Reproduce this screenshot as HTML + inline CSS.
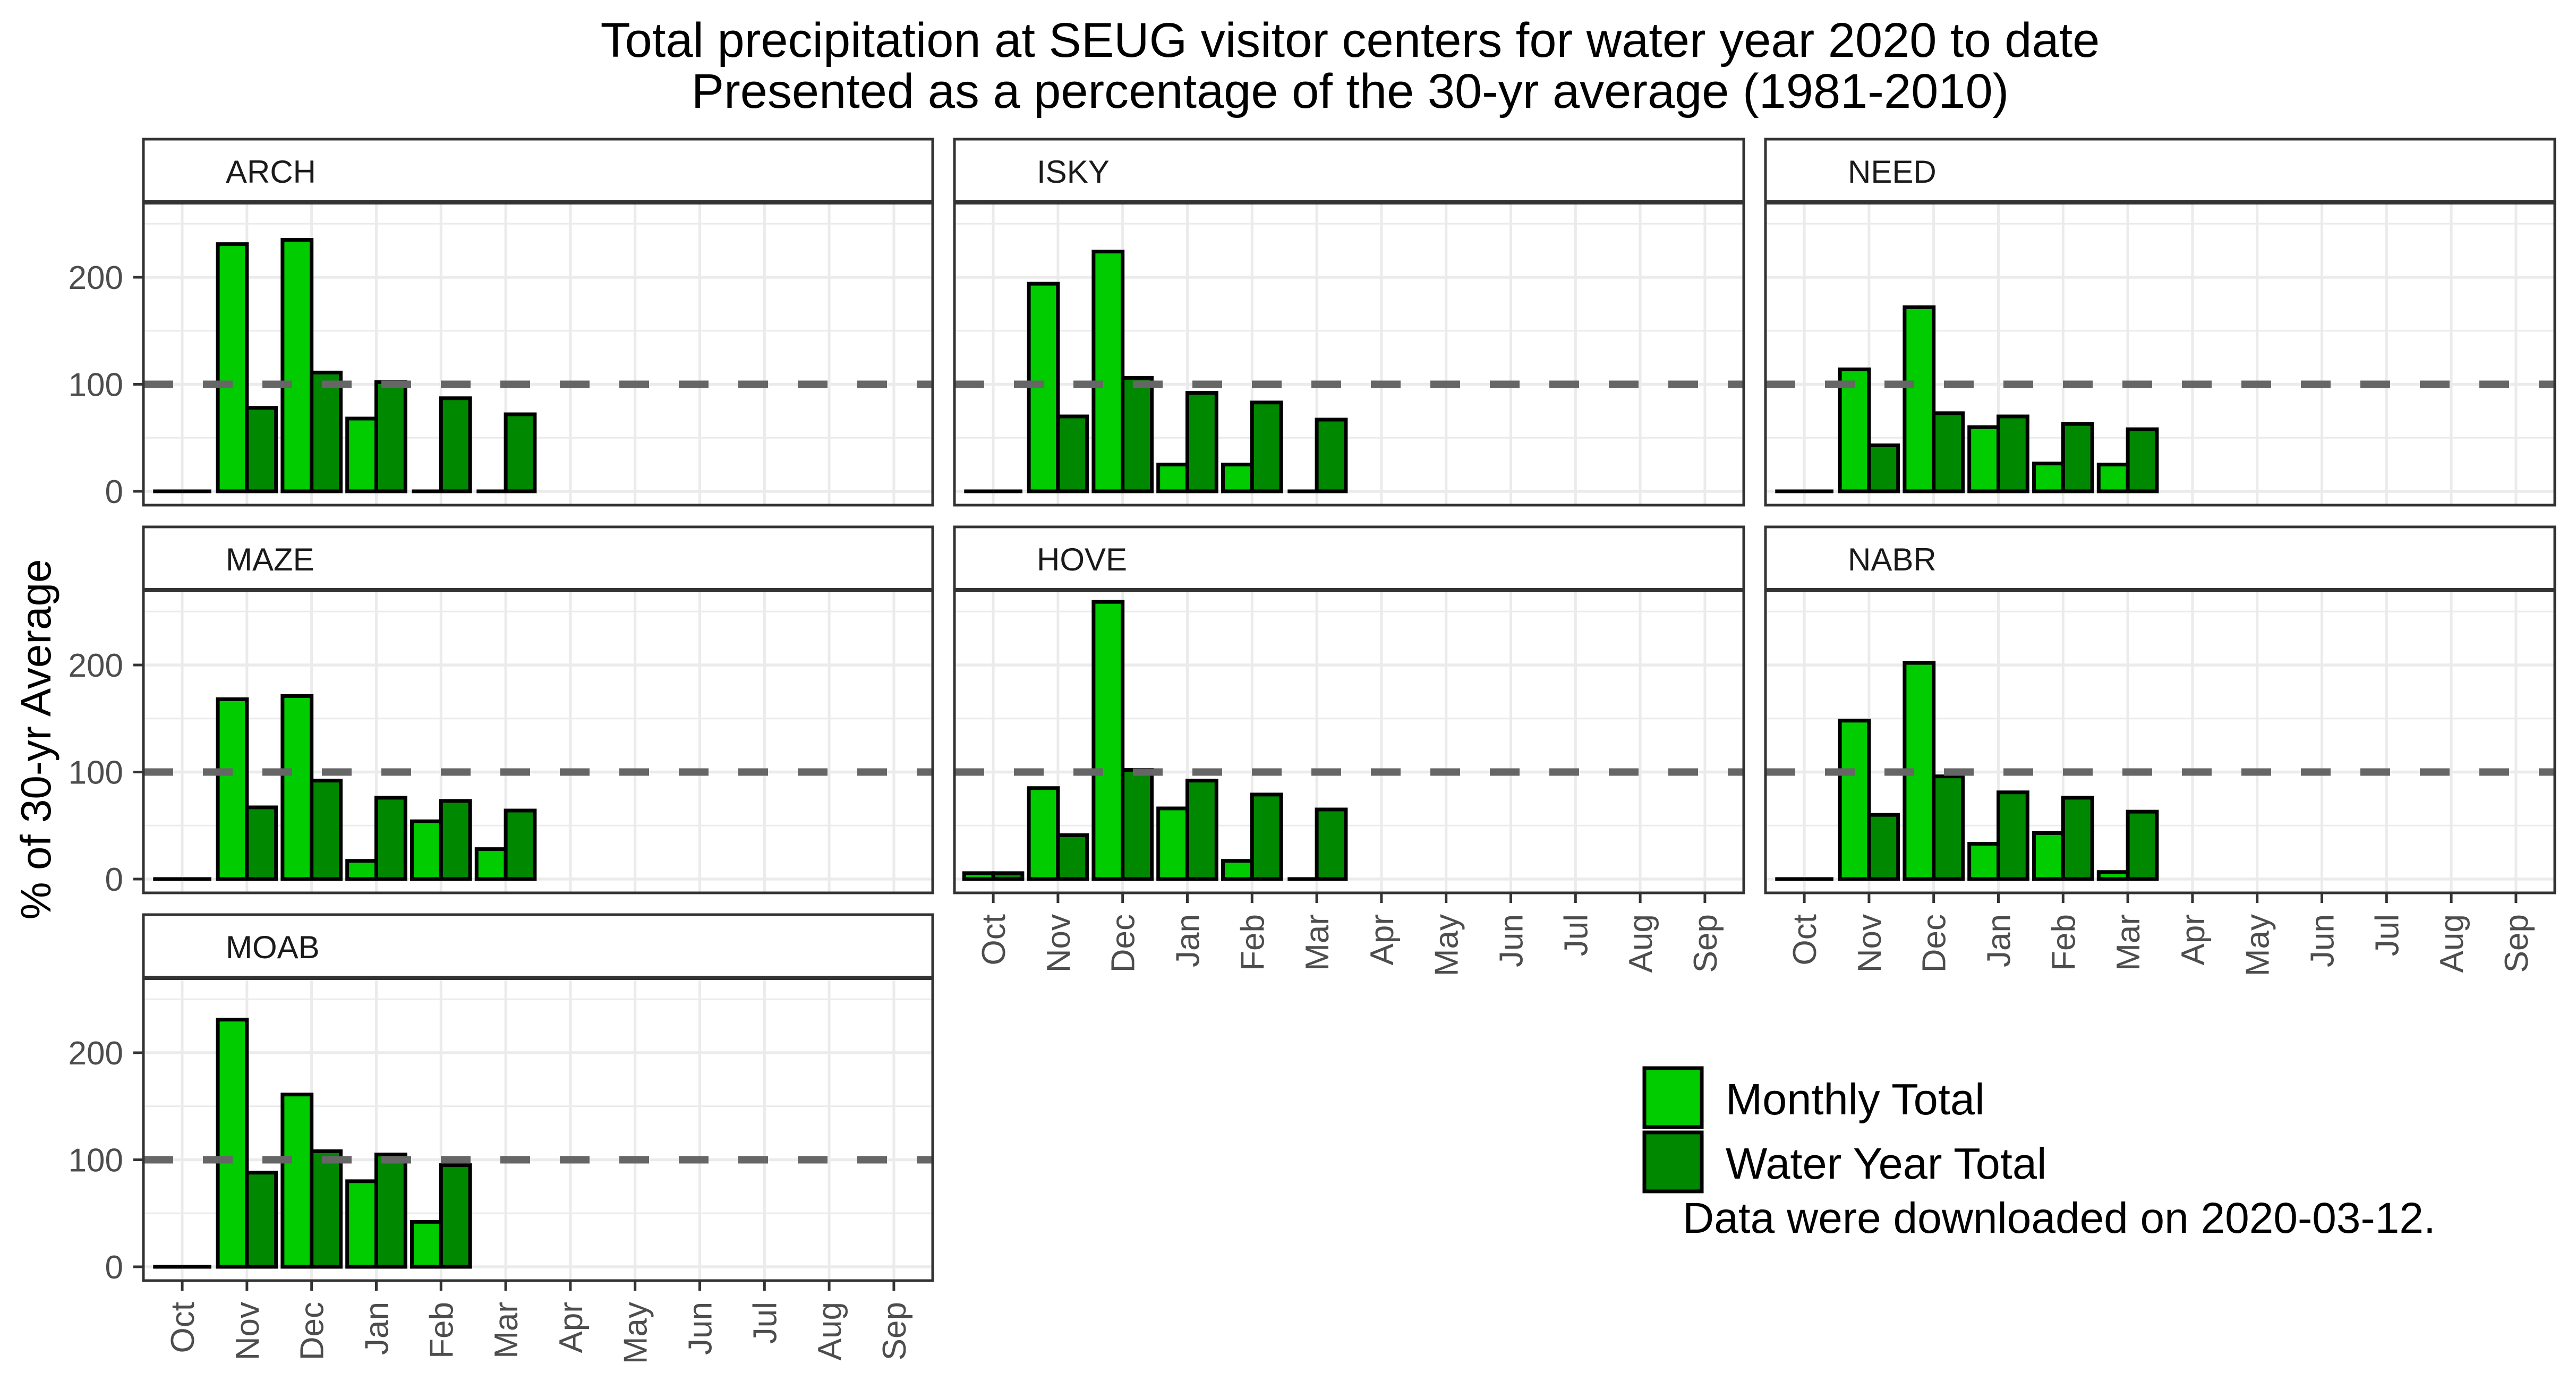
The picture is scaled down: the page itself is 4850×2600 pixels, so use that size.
<!DOCTYPE html>
<html><head><meta charset="utf-8"><style>
html,body{margin:0;padding:0;background:#fff}
svg{display:block;font-family:"Liberation Sans",Arial,sans-serif}
</style></head><body>
<svg id="chart" width="4850" height="2600" viewBox="0 0 4850 2600" xmlns="http://www.w3.org/2000/svg">
<rect width="4850" height="2600" fill="#fff"/>
<text x="2542" y="107" font-size="92" text-anchor="middle" fill="#000">Total precipitation at SEUG visitor centers for water year 2020 to date</text>
<text x="2542" y="203" font-size="92" text-anchor="middle" fill="#000">Presented as a percentage of the 30-yr average (1981-2010)</text>
<text transform="translate(95,1392) rotate(-90)" font-size="80" text-anchor="middle" fill="#000">% of 30-yr Average</text>
<g id="panels"></g>
<g>
<rect x="3096" y="2011" width="108" height="111" fill="#00cc00" stroke="#000" stroke-width="7"/>
<rect x="3096" y="2132" width="108" height="111" fill="#008800" stroke="#000" stroke-width="7"/>
<text x="3249" y="2098" font-size="83" fill="#000">Monthly Total</text>
<text x="3249" y="2219" font-size="83" fill="#000">Water Year Total</text>
</g>
<text x="3168" y="2321" font-size="82" fill="#000">Data were downloaded on 2020-03-12.</text>
</svg>
<script>
const months = ["Oct","Nov","Dec","Jan","Feb","Mar","Apr","May","Jun","Jul","Aug","Sep"];
const sites = ["ARCH","ISKY","NEED","MAZE","HOVE","NABR","MOAB"];
const yTicks = [0,100,200];
const monthlyARCH = [0,231,235,68,0,0];
const wyARCH = [0,78,111,102,87,72];
const monthlyISKY = [0,194,224,25,25,0];
const wyISKY = [0,70,106,92,83,67];
const monthlyNEED = [0,114,172,60,26,25];
const wyNEED = [0,43,73,70,63,58];
const monthlyMAZE = [0,168,171,17,54,28];
const wyMAZE = [0,67,92,76,73,64];
const monthlyHOVE = [5.5,85,259,66,17,0];
const wyHOVE = [5.5,41,102,92,79,65];
const monthlyNABR = [0,148,202,33,43,6.6];
const wyNABR = [0,60,96,81,76,63];
const monthlyMOAB = [0,231,161,80,42];
const wyMOAB = [0,88,108,105,95];

const monthlyData = {ARCH:monthlyARCH,ISKY:monthlyISKY,NEED:monthlyNEED,MAZE:monthlyMAZE,HOVE:monthlyHOVE,NABR:monthlyNABR,MOAB:monthlyMOAB};
const wyData = {ARCH:wyARCH,ISKY:wyISKY,NEED:wyNEED,MAZE:wyMAZE,HOVE:wyHOVE,NABR:wyNABR,MOAB:wyMOAB};

const NS="http://www.w3.org/2000/svg";
const root=document.getElementById('panels');
const colX=[270,1797,3324], PW=1486, PH=570, stripH=119, rowTop=[262,992,1722];
function mk(tag,attrs,parent){const e=document.createElementNS(NS,tag);for(const k in attrs)e.setAttribute(k,attrs[k]);parent.appendChild(e);return e;}
function barPath(x,y0,w,y1){return `M${x},${y0} L${x+w},${y0} L${x+w},${y1} L${x},${y1} Z`;}

sites.forEach((site,idx)=>{
  const col=idx%3,row=Math.floor(idx/3);
  const L=colX[col], sT=rowTop[row], T=sT+stripH, B=T+PH;
  const g=mk('g',{},root);
  
  
  const xs=i=>L+(i+0.6)*PW/12.2;
  const yMin=-12.9,yMax=270;
  const ys=v=>B-(v-yMin)/(yMax-yMin)*PH;
  mk('rect',{x:L,y:T,width:PW,height:PH,fill:'#fff'},g);
  [50,150,250].forEach(v=>mk('line',{x1:L,x2:L+PW,y1:ys(v),y2:ys(v),stroke:'#ebebeb','stroke-width':3},g));
  yTicks.forEach(v=>mk('line',{x1:L,x2:L+PW,y1:ys(v),y2:ys(v),stroke:'#ebebeb','stroke-width':5.5},g));
  months.forEach((m,i)=>mk('line',{x1:xs(i),x2:xs(i),y1:T,y2:B,stroke:'#ebebeb','stroke-width':5},g));
  const mv=monthlyData[site], wv=wyData[site], bw=PW/12.2*0.45;
  mv.forEach((v,i)=>{
    const r=mk('path',{d:barPath(xs(i)-bw,ys(0),bw,ys(v)),fill:'#00cc00',stroke:'#000','stroke-width':7},g);
    
    
  });
  wv.forEach((v,i)=>{
    const r=mk('path',{d:barPath(xs(i),ys(0),bw,ys(v)),fill:'#008800',stroke:'#000','stroke-width':7},g);
    
    
  });
  const ref=mk('line',{x1:L,x2:L+PW,y1:ys(100),y2:ys(100),stroke:'#666','stroke-width':14,'stroke-dasharray':'56 56'},g);
  
  
  mk('rect',{x:L,y:T,width:PW,height:PH,fill:'none',stroke:'#333','stroke-width':5},g);
  mk('rect',{x:L,y:sT,width:PW,height:stripH,fill:'#fff',stroke:'#333','stroke-width':5},g);
  mk('line',{x1:L,x2:L+PW,y1:T,y2:T,stroke:'#333','stroke-width':8},g);
  const st=mk('text',{x:L+155,y:sT+82,'font-size':60,fill:'#1a1a1a'},g);
  st.textContent=site;
  
  
  if(col===0){
    yTicks.forEach(v=>{
      mk('line',{x1:L-19,x2:L,y1:ys(v),y2:ys(v),stroke:'#333','stroke-width':5},g);
      const t=mk('text',{x:L-38,y:ys(v)+22,'font-size':62,'text-anchor':'end',fill:'#4d4d4d'},g);
      t.textContent=v;
      
      
    });
  }
  const showX = (row===2) || (row===1 && col>0);
  if(showX){
    months.forEach((m,i)=>{
      mk('line',{x1:xs(i),x2:xs(i),y1:B,y2:B+19,stroke:'#333','stroke-width':5},g);
      const t=mk('text',{transform:`translate(${xs(i)+22},${B+40}) rotate(-90)`,'font-size':62,'text-anchor':'end',fill:'#4d4d4d'},g);
      t.textContent=m;
      
      
    });
  }
});
</script>
</body></html>
